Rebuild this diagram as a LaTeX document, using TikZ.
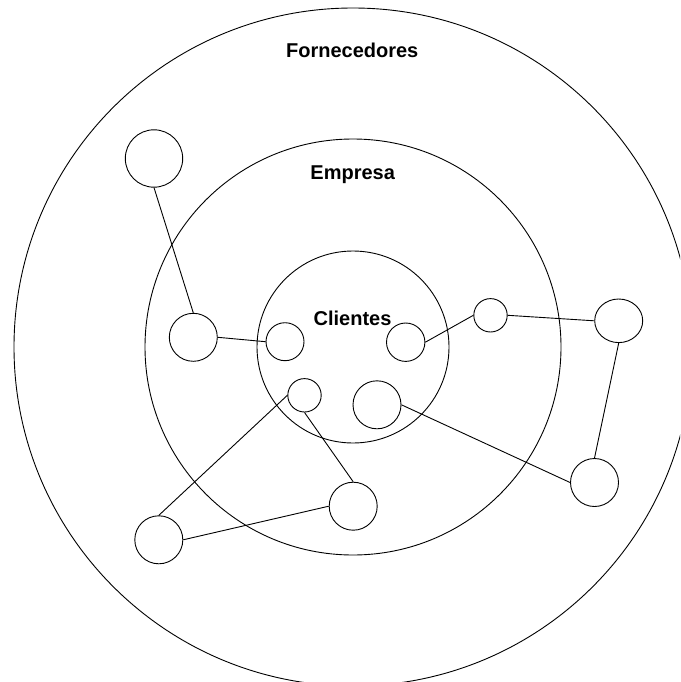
\documentclass[tikz,border=0pt]{standalone}
\usepackage{fontspec}
\setmainfont{Liberation Sans}
\usetikzlibrary{shapes.geometric}
\begin{document}
\begin{tikzpicture}[x=1pt,y=-1pt,
  ring/.style={draw,circle,line width=0.9pt,inner sep=0pt,minimum size=#1},
  party/.style={draw,circle,line width=0.9pt,inner sep=0pt,minimum size=#1},
  title/.style={anchor=base,inner sep=0pt,font=\fontsize{20}{24}\selectfont\bfseries},
  link/.style={line width=0.9pt}]
  \useasboundingbox (0,0) rectangle (680,682);
  \clip (0,0) rectangle (680,682);

  % concentric rings
  \node[ring=678pt] (forn) at (353,347) {};
  \node[ring=416pt] (emp)  at (353,347) {};
  \node[ring=192pt] (cli)  at (353,347) {};

  \node[title] (tforn) at (352.2,57.3)  {Fornecedores};
  \node[title] (temp)  at (352.7,179.3) {Empresa};
  \node[title] (tcli)  at (352.5,325.7) {Clientes};

  % members of the network
  \node[party=57.4pt] (a) at (154,158.5) {};
  \node[party=48pt]   (b) at (193.3,337.3) {};
  \node[party=38pt]   (c) at (285,341.7) {};
  \node[party=38.4pt] (d) at (405.7,342.2) {};
  \node[party=33.4pt] (e) at (490.5,315.3) {};
  \node[draw,ellipse,line width=0.9pt,inner sep=0pt,
        minimum width=48pt,minimum height=43.6pt] (f) at (618.7,320.8) {};
  \node[party=48pt]   (g) at (377,404.8) {};
  \node[party=48pt]   (h) at (594.5,482.5) {};
  \node[party=33.4pt] (i) at (304.5,395.3) {};
  \node[party=48pt]   (j) at (353.2,506.2) {};
  \node[party=48pt]   (k) at (158.8,539.8) {};

  % connections
  \draw[link] (a.south) -- (b.north);
  \draw[link] (b.east) -- (c.west);
  \draw[link] (d.east) -- (e.west);
  \draw[link] (e.east) -- (f.west);
  \draw[link] (f.south) -- (h.north);
  \draw[link] (g.east) -- (h.west);
  \draw[link] (i.west) -- (k.north);
  \draw[link] (i.south) -- (j.north);
  \draw[link] (j.west) -- (k.east);
\end{tikzpicture}
\end{document}
